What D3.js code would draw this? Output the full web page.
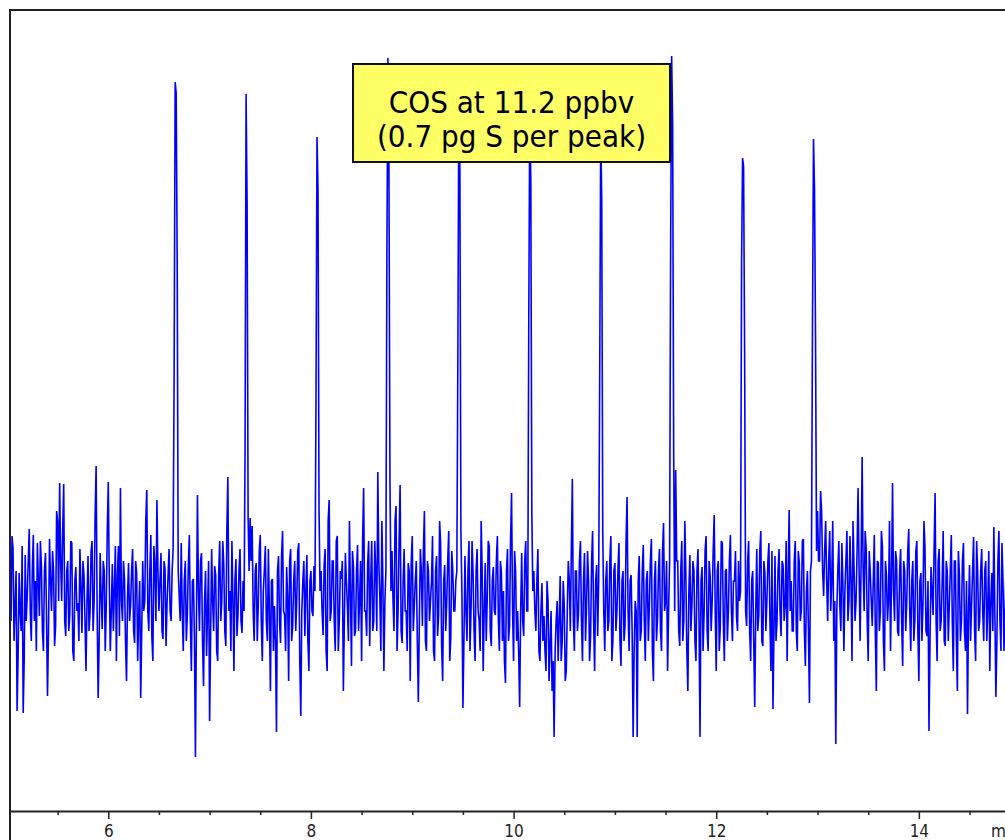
<!DOCTYPE html>
<html>
<head>
<meta charset="utf-8">
<script src="https://cdn.jsdelivr.net/npm/d3@7"></script>
<style>
body { margin: 0; background: #fff; }
</style>
</head>
<body>
<div id="chart"></div>
<script>
//Time grid of the trace (min): readings every 0.01 min
const startTime = 5.02;
const timeStep = 0.01;

//Detector signal, readings on the even steps (baseline noise)
const signal = [
    250, 190, 262, 205, 100, 238, 180, 98, 256, 215, 282, 170, 276, 230, 268, 195, 245, 160, 258, 115,
    272, 200, 240, 185, 290, 328, 210, 327, 175, 250, 196, 268, 150, 244, 208, 262, 178, 236, 140, 255,
    198, 270, 210, 345, 113, 258, 182, 240, 205, 329, 160, 247, 222, 150, 265, 323, 190, 232, 130, 248,
    205, 262, 168, 238, 194, 113, 250, 210, 321, 180, 276, 150, 246, 311, 200, 258, 172, 242, 208, 262,
    190, 262, 215, 180, 215, 268, 160, 250, 196, 276, 140, 232, 54, 316, 180, 258, 125, 240, 200, 90,
    262, 180, 236, 150, 270, 208, 246, 165, 334, 220, 270, 140, 252, 196, 262, 178, 200, 250, 190, 293,
    285, 170, 248, 205, 276, 150, 240, 190, 262, 120, 232, 205, 79, 255, 168, 280, 196, 244, 130, 262,
    185, 250, 210, 268, 95, 230, 175, 256, 140, 240, 195, 220, 250, 190, 240, 176, 262, 140, 311, 200,
    250, 160, 275, 190, 232, 120, 258, 205, 290, 145, 244, 180, 266, 210, 150, 323, 200, 248, 165, 270,
    190, 238, 339, 214, 290, 140, 240, 250, 200, 260, 180, 305, 200, 326, 168, 262, 200, 248, 130, 275,
    205, 250, 109, 262, 185, 300, 160, 240, 210, 275, 150, 255, 195, 268, 130, 246, 208, 280, 172, 240,
    200, 240, 230, 190, 103, 255, 170, 270, 200, 238, 150, 262, 190, 290, 140, 248, 212, 265, 165, 244,
    196, 275, 160, 238, 220, 128, 262, 185, 318, 150, 240, 200, 104, 258, 175, 270, 200, 240, 210, 240,
    180, 262, 150, 228, 195, 140, 210, 165, 120, 74, 190, 150, 235, 170, 205, 140, 250, 180, 332, 160,
    240, 196, 270, 150, 258, 205, 230, 175, 280, 140, 246, 230, 200, 240, 160, 250, 190, 275, 170, 248,
    200, 268, 145, 240, 185, 314, 160, 236, 74, 210, 74, 255, 180, 266, 150, 240, 205, 272, 130, 250,
    190, 262, 160, 288, 210, 140, 250, 200, 240, 341, 250, 165, 270, 190, 238, 120, 256, 205, 240, 150,
    262, 74, 244, 196, 275, 160, 235, 210, 296, 140, 250, 185, 268, 150, 242, 200, 276, 170, 230, 195,
    250, 220, 240, 210, 185, 270, 150, 240, 104, 262, 196, 280, 165, 238, 210, 268, 140, 102, 255, 190,
    262, 175, 246, 205, 150, 301, 230, 180, 270, 160, 248, 200, 272, 145, 240, 108, 250, 230, 210, 300,
    250, 300, 215, 290, 190, 280, 230, 170, 67, 240, 205, 268, 160, 250, 190, 275, 150, 244, 210, 323,
    170, 354, 200, 262, 150, 240, 185, 276, 120, 248, 200, 265, 140, 236, 210, 160, 328, 190, 250, 175,
    262, 145, 240, 208, 282, 160, 250, 190, 270, 130, 238, 205, 265, 175, 80, 244, 196, 318, 150, 262,
    190, 280, 165, 240, 205, 276, 140, 250, 120, 236, 190, 268, 160, 97, 246, 205, 274, 150, 240, 190,
    262, 170, 250, 205, 140, 238, 284, 114, 250, 190, 268, 160, 240
];

//Detector signal, readings on the odd steps (between the ones above)
const signalMid = [
    220, 275, 170, 240, 155, 200, 265, 150, 190, 250, 200, 240, 190, 160, 230, 270, 180, 240, 200, 180,
    230, 260, 165, 300, 210, 250, 280, 190, 240, 180, 270, 160, 230, 200, 170, 225, 250, 190, 210, 180,
    260, 180, 295, 200, 170, 215, 250, 160, 280, 230, 200, 180, 265, 235, 175, 210, 250, 170, 215, 190,
    240, 180, 250, 150, 230, 180, 200, 290, 200, 240, 175, 265, 190, 240, 230, 180, 250, 165, 235, 200,
    240, 200, 200, 240, 190, 200, 230, 170, 245, 190, 230, 175, 190, 220, 250, 170, 210, 155, 250, 175,
    210, 245, 160, 240, 190, 270, 180, 280, 200, 160, 215, 230, 175, 240, 190, 230, 200, 220, 240, 250,
    200, 240, 170, 260, 190, 220, 265, 170, 200, 230, 160, 170, 240, 190, 255, 200, 160, 215, 250, 170,
    230, 180, 260, 150, 200, 250, 220, 170, 230, 200, 245, 200, 200, 220, 200, 245, 160, 290, 190, 250,
    190, 270, 160, 240, 250, 190, 230, 170, 220, 260, 175, 240, 180, 250, 270, 200, 175, 270, 230, 180,
    270, 180, 250, 160, 230, 210, 200, 200, 220, 210, 290, 160, 270, 180, 230, 200, 160, 240, 250, 180,
    230, 170, 190, 240, 260, 170, 250, 190, 230, 160, 240, 175, 290, 165, 230, 180, 250, 150, 260, 200,
    230, 200, 200, 220, 170, 200, 240, 160, 270, 180, 240, 200, 160, 240, 200, 170, 270, 180, 230, 200,
    250, 190, 250, 170, 150, 240, 170, 270, 200, 260, 170, 160, 200, 190, 250, 200, 220, 230, 220, 200,
    230, 160, 200, 170, 160, 230, 130, 200, 150, 160, 210, 190, 150, 230, 130, 200, 230, 260, 190, 240,
    180, 250, 190, 230, 170, 260, 150, 250, 190, 230, 175, 200, 210, 200, 230, 180, 250, 150, 240, 180,
    240, 170, 230, 170, 270, 200, 230, 180, 160, 200, 230, 170, 240, 190, 230, 170, 250, 160, 230, 170,
    240, 180, 260, 200, 250, 200, 200, 220, 200, 250, 180, 240, 170, 290, 160, 220, 180, 250, 170, 240,
    190, 230, 160, 260, 180, 250, 180, 260, 200, 240, 160, 270, 190, 240, 170, 250, 200, 230, 260, 180,
    210, 210, 210, 200, 250, 180, 230, 170, 200, 180, 260, 170, 250, 180, 250, 190, 260, 180, 170, 240,
    200, 250, 190, 270, 240, 200, 180, 250, 180, 260, 190, 270, 180, 220, 180, 240, 220, 220, 260, 250,
    320, 240, 260, 230, 250, 200, 290, 210, 200, 270, 180, 230, 220, 280, 210, 230, 290, 190, 260, 240,
    250, 240, 280, 190, 260, 210, 230, 180, 250, 180, 280, 170, 250, 190, 290, 230, 220, 260, 180, 240,
    190, 250, 180, 260, 200, 230, 170, 260, 180, 230, 170, 290, 180, 230, 170, 220, 260, 190, 250, 180,
    230, 170, 250, 170, 240, 190, 250, 170, 260, 170, 250, 180, 230, 200, 170, 240, 180, 270, 180, 240,
    200, 240, 170, 260, 210, 180, 200, 170, 280, 160, 230, 200
];

//COS injections: retention time and the readings that rise above the noise
const peakTimes = [6.66, 7.36, 8.06, 8.76, 9.46, 10.16, 10.86, 11.56, 12.26, 12.96];
const peakRise = [439, 363, 411, 561, 451, 491, 431, 562, 547, 484];
const peakApex = [729, 717, 674, 753, 716, 701, 681, 755, 653, 672];
const peakShoulder = [718, 608, 621, 641, 641, 631, 611, 685, 644, 623];
const peakFall = [550, 293, 300, 330, 280, 300, 280, 359, 463, 474];

//Axis ticks (min)
const majorTicks = [6, 8, 10, 12, 14];
const minorTicks = [5.5, 6.5, 7, 7.5, 8.5, 9, 9.5, 10.5, 11, 11.5, 12.5, 13, 13.5, 14.5];
const axisUnit = "min";

//Annotation text
const noteLines = ["COS at 11.2 ppbv", "(0.7 pg S per peak)"];

const width = 1005;
const height = 840;
const font = "Tahoma, 'DejaVu Sans Condensed', 'Liberation Sans', sans-serif";

//Interleave the two sets of readings, then put the peaks in
const trace = [];
signal.forEach((v, i) => {
    trace.push({ t: startTime + 2 * i * timeStep, v: v });
    if (i < signalMid.length) trace.push({ t: startTime + (2 * i + 1) * timeStep, v: signalMid[i] });
});
peakTimes.forEach((rt, k) => {
    const i = Math.round((rt - startTime) / timeStep);
    trace[i - 1].v = peakRise[k];
    trace[i].v = peakApex[k];
    trace[i + 1].v = peakShoulder[k];
    trace[i + 2].v = peakFall[k];
});

const svg = d3.select("#chart").append("svg").attr("width", width).attr("height", height);

const xscale = d3.scaleLinear().domain([5.03, 14.85]).range([10, 1005]);
const yscale = d3.scaleLinear().domain([0, 800]).range([811, 11]);

svg.append("defs").append("clipPath").attr("id", "plot-clip")
    .append("rect").attr("x", 11).attr("y", 11).attr("width", width - 11).attr("height", 799);

//The trace
const line = d3.line().x(d => xscale(d.t)).y(d => yscale(d.v));
svg.append("path")
    .datum(trace)
    .attr("clip-path", "url(#plot-clip)")
    .attr("d", line)
    .attr("fill", "none")
    .attr("stroke", "#0000ff")
    .attr("stroke-width", 1.6);

//Frame: top and left edges
svg.append("line").attr("x1", 9).attr("x2", width).attr("y1", 10).attr("y2", 10)
    .attr("stroke", "#222").attr("stroke-width", 2);
svg.append("line").attr("x1", 10).attr("x2", 10).attr("y1", 9).attr("y2", height)
    .attr("stroke", "#222").attr("stroke-width", 2);

//Minor ticks
const minorAxis = d3.axisBottom(xscale).tickValues(minorTicks).tickSize(4).tickFormat("");
const gMinor = svg.append("g").attr("transform", `translate(0, ${yscale(0)})`).call(minorAxis);
gMinor.select(".domain").remove();
gMinor.selectAll(".tick line").attr("stroke", "#222").attr("stroke-width", 1.5);

//Major ticks with labels
const xAxis = d3.axisBottom(xscale).tickValues(majorTicks).tickSize(8).tickSizeOuter(0).tickFormat(d3.format("d"));
const gAxis = svg.append("g").attr("transform", `translate(0, ${yscale(0)})`).call(xAxis);
gAxis.select(".domain").attr("stroke", "#222").attr("stroke-width", 2);
gAxis.selectAll(".tick line").attr("stroke", "#222").attr("stroke-width", 1.5);
gAxis.selectAll(".tick text")
    .attr("font-family", font).attr("font-size", 17).attr("fill", "#222")
    .attr("y", 14).attr("dy", "0.68em");

svg.append("text").attr("x", 991).attr("y", 837).attr("font-family", font).attr("font-size", 17)
    .attr("fill", "#222").text(axisUnit);

//Annotation box
const note = svg.append("g");
note.append("rect")
    .attr("x", 353).attr("y", 64).attr("width", 317).attr("height", 98)
    .attr("fill", "#ffff66").attr("stroke", "#111").attr("stroke-width", 2);
note.selectAll("text.note").data(noteLines).enter().append("text")
    .attr("class", "note")
    .attr("x", 511.5)
    .attr("y", (d, i) => 113 + i * 34)
    .attr("text-anchor", "middle")
    .attr("font-family", font)
    .attr("font-size", 31)
    .attr("fill", "#000")
    .text(d => d);
</script>
</body>
</html>
